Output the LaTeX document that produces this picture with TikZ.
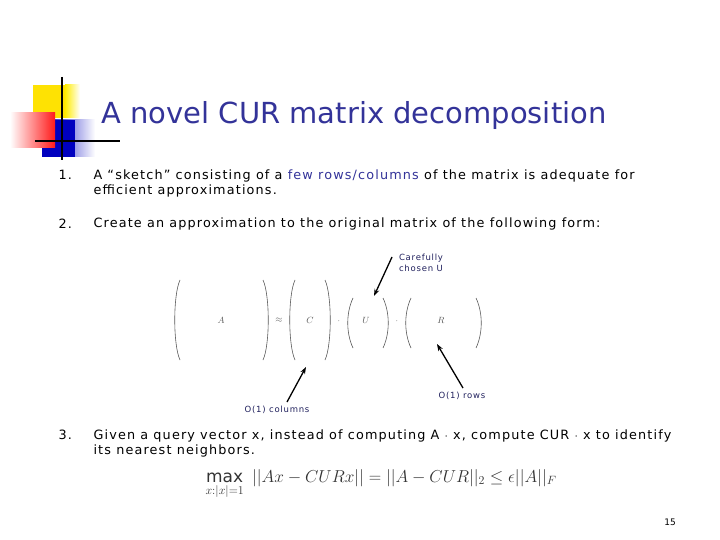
\documentclass[tikz,border=0pt]{standalone}
\usepackage{fontspec}
\usepackage{amsmath}
\setmainfont{DejaVu Sans}
\newfontfamily\bodyfont[LetterSpace=9]{DejaVu Sans}
\usetikzlibrary{arrows.meta}
\definecolor{ttl}{RGB}{51,51,153}
\definecolor{hl}{RGB}{51,51,153}
\tikzset{body/.style={anchor=west,font=\bodyfont\fontsize{12.8}{15.5}\selectfont,align=left},
 note/.style={font=\bodyfont\fontsize{8.5}{10.5}\selectfont,text=ttl!60!black,align=left},
 par/.style={gray!70!black,line width=0.6pt},
 pt/.style={-{Stealth[length=7pt,width=5pt]},line width=1.3pt}}
\begin{document}
\begin{tikzpicture}[x=1pt,y=-1pt]
\useasboundingbox (0,0) rectangle (720,540);
% logo
\fill[yellow!85!orange] (33,85) rectangle (65,118);
\shade[left color=yellow!85!orange,right color=white] (65,85) rectangle (80,118);
\shade[left color=blue!75!black,right color=white] (42,120) rectangle (95,157);
\fill[blue!75!black] (42,120) rectangle (75,157);
\shade[left color=white,right color=red!90] (10,113) rectangle (55,148);
\draw[line width=1.5pt] (62,77) -- (62,160);
\draw[line width=1.5pt] (35,141) -- (120,141);
\node[text=ttl,font=\fontsize{29}{32}\selectfont] (title) at (354,116) {A novel CUR matrix decomposition};
% items
\node[body] (n1) at (55,175) {1.};
\node[body,anchor=north west] (t1) at (90,166) {A “sketch” consisting of a \textcolor{hl}{few rows/columns} of the matrix is adequate for\\efficient approximations.};
\node[body] (n2) at (55,224) {2.};
\node[body] (t2) at (90,224) {Create an approximation to the original matrix of the following form:};
\node[body] (n3) at (55,435) {3.};
\node[body,anchor=north west] (t3) at (90,426) {Given a query vector x, instead of computing A $\cdot$ x, compute CUR $\cdot$ x to identify\\its nearest neighbors.};
% matrix equation
\foreach \l/\r/\t/\b in {175/268/280/360, 290/330/280/360, 348/388/298/348, 406/481/298/348}{
 \draw[par] (\l+5,\t) .. controls (\l-2,\t+15) and (\l-2,\b-15) .. (\l+5,\b);
 \draw[par] (\r-5,\t) .. controls (\r+2,\t+15) and (\r+2,\b-15) .. (\r-5,\b);}
\node[font=\small,text=gray!70!black] (A) at (221,320) {$A$};
\node[font=\small,text=gray!70!black] (ap) at (279,320) {$\approx$};
\node[font=\small,text=gray!70!black] (C) at (310,320) {$C$};
\node[font=\small,text=gray!70!black] (d1) at (339,321) {$\cdot$};
\node[font=\small,text=gray!70!black] (U) at (366,320) {$U$};
\node[font=\small,text=gray!70!black] (d2) at (397,321) {$\cdot$};
\node[font=\small,text=gray!70!black] (R) at (441,320) {$R$};
\node[note] (cu) at (421,263) {Carefully\\chosen U};
\node[note] (oc) at (277,410) {O(1) columns};
\node[note] (orw) at (462,396) {O(1) rows};
\coordinate (ce) at (374,296);
\coordinate (oe) at (306,367);
\coordinate (re) at (437,344);
\draw[pt] (392,257) -- (ce);
\draw[pt] (287,402) -- (oe);
\draw[pt] (463,388) -- (re);
% formula
\node[anchor=west,text=gray!40!black,font=\fontsize{17}{20}\selectfont] (f) at (202,484) {$\displaystyle\max_{x:|x|=1}\ ||Ax-CURx|| = ||A-CUR||_2 \le \epsilon||A||_F$};
\node[font=\small] (pg) at (670,522) {15};
\end{tikzpicture}
\end{document}
